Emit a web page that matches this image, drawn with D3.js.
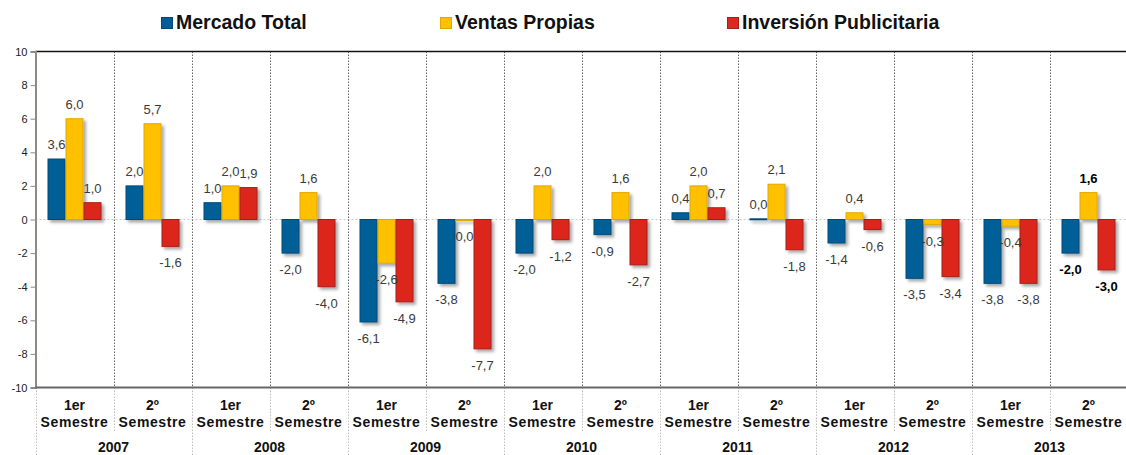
<!DOCTYPE html>
<html>
<head>
<meta charset="utf-8">
<style>
  body { margin: 0; background: #fff; }
  svg { display: block; font-family: "Liberation Sans", Arial, sans-serif; }
</style>
</head>
<body>
<script src="https://d3js.org/d3.v7.min.js"></script>
<script>
// data
var years = ["2007", "2008", "2009", "2010", "2011", "2012", "2013"];
var halves = ["1er", "2º"];
var seriesNames = ["Mercado Total", "Ventas Propias", "Inversión Publicitaria"];
var seriesColors = ["#005e97", "#ffc000", "#dc281e"];
var seriesStrokes = ["#004a78", "#e0a800", "#a81d17"];
var mercado = [3.6, 2.0, 1.0, -2.0, -6.1, -3.8, -2.0, -0.9, 0.4, 0.04, -1.4, -3.5, -3.8, -2.0];
var ventas = [6.0, 5.7, 2.0, 1.6, -2.6, -0.04, 2.0, 1.6, 2.0, 2.1, 0.4, -0.3, -0.4, 1.6];
var inversion = [1.0, -1.6, 1.9, -4.0, -4.9, -7.7, -1.2, -2.7, 0.7, -1.8, -0.6, -3.4, -3.8, -3.0];
var yTicks = [10, 8, 6, 4, 2, 0, -2, -4, -6, -8, -10];

var W = 1126, H = 455;
var categories = [];
years.forEach(function(y) { halves.forEach(function(h) { categories.push(y + "-" + h); }); });
var series = [mercado, ventas, inversion];

var svg = d3.select("body").append("svg").attr("width", W).attr("height", H);

var defs = svg.append("defs");
var f = defs.append("filter").attr("id", "shadow")
  .attr("x", "-20%").attr("y", "-20%").attr("width", "160%").attr("height", "160%");
f.append("feDropShadow").attr("dx", 2.5).attr("dy", 2.5).attr("stdDeviation", 1.6)
  .attr("flood-color", "#000").attr("flood-opacity", 0.35);

var x = d3.scaleBand().domain(categories).range([35.5, 35.5 + 78 * 14]).padding(0);
var xs = d3.scaleBand().domain([0, 1, 2]).range([12, 66]).padding(0);
var y = d3.scaleLinear().domain([-10, 10]).range([387.5, 51.5]);

var fmt = function(v) {
  var s = Math.abs(v).toFixed(1).replace(".", ",");
  return (v <= -0.05 ? "-" : "") + s;
};

// zero line
svg.append("line").attr("x1", x.range()[0]).attr("x2", W)
  .attr("y1", y(0)).attr("y2", y(0))
  .attr("stroke", "#c8c8c8").attr("stroke-dasharray", "2,2");

// category separators in the plot
svg.append("g").selectAll("line").data(categories.slice(1)).enter().append("line")
  .attr("x1", function(d) { return Math.round(x(d)) + 0.5; })
  .attr("x2", function(d) { return Math.round(x(d)) + 0.5; })
  .attr("y1", y(10)).attr("y2", y(-10))
  .attr("stroke", "#666").attr("stroke-dasharray", "1.5,1.5");

// separators below the axis
svg.append("g").selectAll("line").data(categories).enter().append("line")
  .attr("x1", function(d) { return Math.round(x(d)) + 0.5; })
  .attr("x2", function(d) { return Math.round(x(d)) + 0.5; })
  .attr("y1", y(-10))
  .attr("y2", function(d, i) { return i % 2 === 0 ? H : 432; })
  .attr("stroke", "#bdbdbd").attr("stroke-dasharray", "1.5,1.5");

// bars
var bars = svg.append("g");
series.forEach(function(vals, s) {
  bars.append("g").attr("filter", "url(#shadow)")
    .selectAll("rect").data(vals).enter().append("rect")
    .attr("x", function(d, i) { return x(categories[i]) + xs(s) + 0.5; })
    .attr("width", xs.bandwidth() - 1)
    .attr("y", function(d) { return y(Math.max(0, d)); })
    .attr("height", function(d) { return Math.max(1, Math.abs(y(d) - y(0))); })
    .attr("fill", seriesColors[s])
    .attr("stroke", seriesStrokes[s]).attr("stroke-width", 1);
});

// value labels
var labels = svg.append("g").attr("font-size", 13).attr("text-anchor", "middle");
series.forEach(function(vals, s) {
  labels.append("g").selectAll("text").data(vals).enter().append("text")
    .attr("x", function(d, i) { return x(categories[i]) + xs(s) + xs.bandwidth() / 2; })
    .attr("y", function(d) { return d >= 0 ? y(d) - 10 : y(d) + 21; })
    .attr("fill", function(d, i) { return i === vals.length - 1 ? "#000" : "#3a3a3a"; })
    .attr("font-weight", function(d, i) { return i === vals.length - 1 ? "bold" : "normal"; })
    .text(fmt);
});

// top border
svg.append("line").attr("x1", 35.5).attr("x2", W).attr("y1", y(10)).attr("y2", y(10))
  .attr("stroke", "#111").attr("stroke-width", 1.5);

// y axis
var yAxis = svg.append("g").attr("transform", "translate(35.5,0)")
  .call(d3.axisLeft(y).tickValues(yTicks).tickSize(5).tickFormat(function(d) { return String(d); }));
yAxis.select(".domain").attr("stroke", "#8f8a86").attr("stroke-width", 2);
yAxis.selectAll(".tick line").attr("stroke", "#8f8a86");
yAxis.selectAll(".tick text").attr("font-family", "Liberation Sans, Arial, sans-serif")
  .attr("font-size", 11).attr("fill", "#222").attr("x", -8);

// bottom axis line
svg.append("line").attr("x1", 35.5).attr("x2", W).attr("y1", y(-10)).attr("y2", y(-10))
  .attr("stroke", "#666").attr("stroke-width", 2);

// category labels
var cat = svg.append("g").attr("font-size", 14).attr("font-weight", "bold")
  .attr("text-anchor", "middle").attr("fill", "#111");
cat.selectAll("text.h").data(categories).enter().append("text").attr("class", "h")
  .attr("x", function(d) { return x(d) + x.bandwidth() / 2; })
  .attr("y", 410)
  .text(function(d) { return d.split("-")[1]; });
cat.selectAll("text.s").data(categories).enter().append("text").attr("class", "s")
  .attr("x", function(d) { return x(d) + x.bandwidth() / 2; })
  .attr("y", 427)
  .attr("letter-spacing", 0.6)
  .text("Semestre");
cat.selectAll("text.y").data(years).enter().append("text").attr("class", "y")
  .attr("x", function(d) { return x(d + "-" + halves[1]); })
  .attr("y", 452)
  .text(function(d) { return d; });

// legend
var legendX = [161, 440, 727];
var legend = svg.append("g").selectAll("g").data(seriesNames).enter().append("g")
  .attr("transform", function(d, i) { return "translate(" + legendX[i] + ",0)"; });
legend.append("rect").attr("x", 0.5).attr("y", 17.5).attr("width", 11).attr("height", 11)
  .attr("fill", function(d, i) { return seriesColors[i]; })
  .attr("stroke", function(d, i) { return seriesStrokes[i]; });
legend.append("text").attr("x", 15).attr("y", 29)
  .attr("font-size", 19.5).attr("font-weight", "bold").attr("fill", "#111")
  .text(function(d) { return d; });
</script>
</body>
</html>
